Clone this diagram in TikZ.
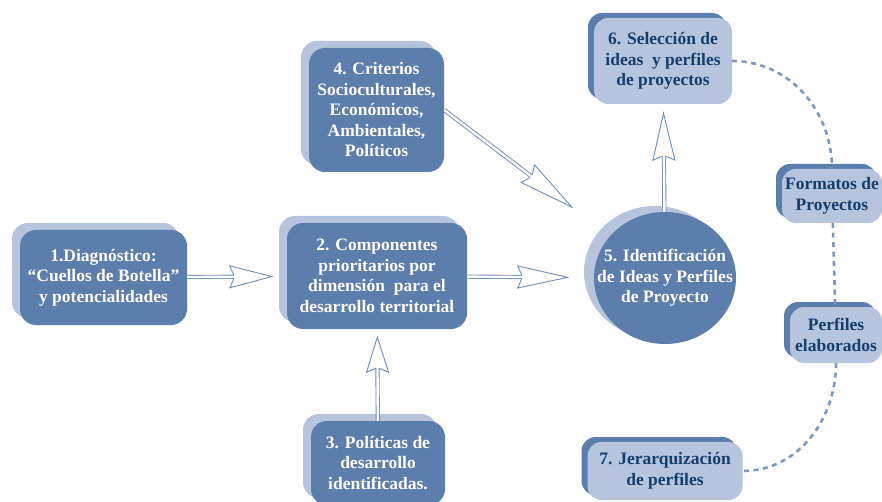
\documentclass[tikz,border=0pt]{standalone}
\usepackage{fontspec}
\setmainfont{Liberation Serif}
\usetikzlibrary{shapes.geometric, shadows, decorations.markings}
\definecolor{boxblue}{RGB}{92, 126, 172}
\definecolor{paleblue}{RGB}{182, 196, 222}
\definecolor{inkblue}{RGB}{20, 62, 110}
\definecolor{arrowblue}{RGB}{112, 140, 186}
\definecolor{dashblue}{RGB}{124, 152, 194}

\tikzset{
	darkbox/.style={rectangle, rounded corners=16pt, fill=boxblue, text=white, align=center, inner sep=0pt,
		font=\bfseries\fontsize{17.5}{20.5}\selectfont,
		general shadow={fill=paleblue, shadow xshift=-8pt, shadow yshift=7pt}},
	palebox/.style={rectangle, rounded corners=14pt, fill=paleblue, text=inkblue, align=center, inner sep=0pt,
		font=\bfseries\fontsize{17.5}{20.5}\selectfont,
		general shadow={fill=boxblue, shadow xshift=-6pt, shadow yshift=5pt}},
	idcircle/.style={ellipse, fill=boxblue, inner sep=0pt,
		general shadow={fill=paleblue, shadow xshift=-10pt, shadow yshift=6pt}},
	wtext/.style={text=white, align=center, inner sep=0pt, font=\bfseries\fontsize{17.5}{20.5}\selectfont},
	shaft/.style={draw=arrowblue, line width=0.9pt, double=white, double distance=2.4pt},
	openarrow/.style 2 args={
		postaction={draw, shaft, shorten >=#1+#2-4pt},
		postaction={decorate, decoration={markings, mark=at position -#1 with {
			\fill[white] (0pt,0pt) -- (-#2,11pt) -- (-#2+4pt,1.6pt) -- (-#2+4pt,-1.6pt) -- (-#2,-11pt) -- cycle;
			\draw[arrowblue, line width=0.9pt, line join=miter] (-#2+4pt,1.6pt) -- (-#2,11pt) -- (0pt,0pt) -- (-#2,-11pt) -- (-#2+4pt,-1.6pt);
		}}}},
	linkline/.style={dashblue, line width=2.6pt, dash pattern=on 5pt off 4.5pt},
}

\begin{document}
\begin{tikzpicture}[x=1pt, y=-1pt]
	\useasboundingbox (0,0) rectangle (882,502);
	% Cajas principales
	\node[darkbox, minimum width=167pt, minimum height=95pt] (diag) at (103.5,277.5) {1.Diagnóstico:\\“Cuellos de Botella”\\y potencialidades};
	\node[darkbox, minimum width=180pt, minimum height=106pt] (comp) at (377,276) {2. Componentes\\prioritarios por\\dimensión\ \ para el\\desarrollo territorial};
	\node[darkbox, minimum width=134pt, minimum height=84pt] (polit) at (378,463) {3. Políticas de\\desarrollo\\identificadas.};
	\node[darkbox, minimum width=135pt, minimum height=124pt] (crit) at (376.5,110) {4. Criterios\\Socioculturales,\\Económicos,\\Ambientales,\\Políticos};
	\node[idcircle, minimum width=142pt, minimum height=132pt,
		label={[wtext]center:{5. Identificación\\de Ideas y Perfiles\\de Proyecto}}] (ident) at (665,278) {};
	% Cajas claras
	\node[palebox, minimum width=138pt, minimum height=86pt] (selec) at (663,61) {6. Selección de\\ideas\ \ y perfiles\\de proyectos};
	\node[palebox, minimum width=100pt, minimum height=54pt] (formatos) at (832,196) {Formatos de\\Proyectos};
	\node[palebox, minimum width=92pt, minimum height=56pt] (perfiles) at (836,335) {Perfiles\\elaborados};
	\node[palebox, minimum width=155pt, minimum height=58pt] (jerarq) at (665,471) {7. Jerarquización\\de perfiles};
	% Flechas
	\path[openarrow={15pt}{42pt}] (diag) -- (comp);
	\path[openarrow={26pt}{50pt}] (comp) -- (ident);
	\path[openarrow={8pt}{35pt}] (polit) -- (comp);
	\path[openarrow={48pt}{55pt}] (crit.east) -- (ident);
	\path[openarrow={9pt}{47pt}] (ident) -- (selec);
	% Enlaces punteados
	\draw[linkline] (selec.east) to[out=0, in=90] (formatos.north);
	\draw[linkline] (formatos) -- (perfiles);
	\draw[linkline] (perfiles.south) to[out=-90, in=0] (jerarq.east);
\end{tikzpicture}
\end{document}
